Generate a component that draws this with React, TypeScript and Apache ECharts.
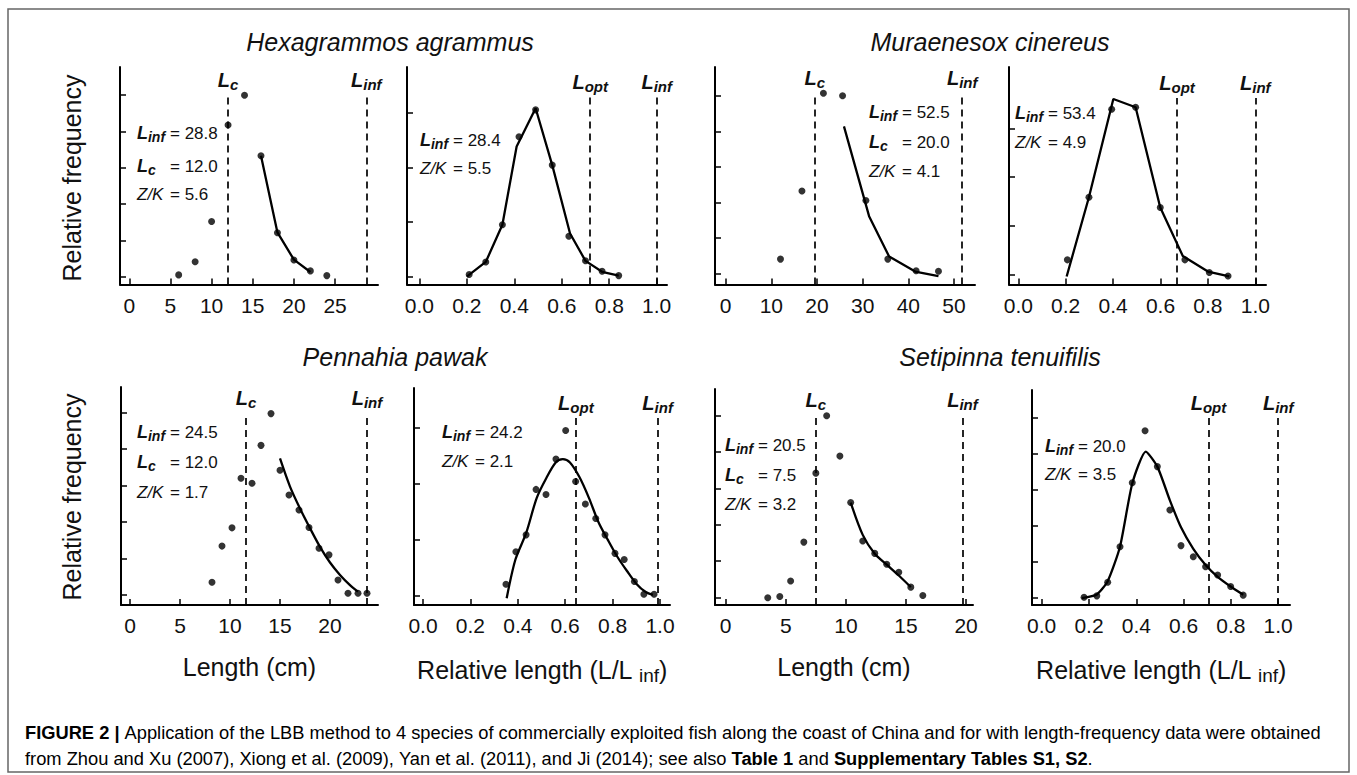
import React, { useEffect, useRef } from "react";
import * as echarts from "echarts";

const FONT = '"Liberation Sans", Arial, Helvetica, sans-serif';
const INK = "#111";

// ---------------- Text content ----------------
const speciesTitles = ["Hexagrammos agrammus", "Muraenesox cinereus", "Pennahia pawak", "Setipinna tenuifilis"];
const yAxisTitle = "Relative frequency";
const lengthTitle = "Length (cm)";
const relTitleMain = "Relative length (L/L ";
const relTitleSub = "inf";

// ---------------- Tick labels ----------------
const ticksLen25 = [0, 5, 10, 15, 20, 25];
const ticksLen50 = [0, 10, 20, 30, 40, 50];
const ticksLen20 = [0, 5, 10, 15, 20];
const ticksRel = [0, 0.2, 0.4, 0.6, 0.8, 1.0];

// ---------------- Series values (y in tick units) ----------------
// Hexagrammos agrammus, length
const p1X = [6, 8, 10, 12, 14, 16, 18, 20, 22, 24];
const p1Y = [0.05, 0.41, 1.52, 4.18, 5.0, 3.33, 1.21, 0.46, 0.16, 0.03];
const p1FitX = [16, 18, 20, 22];
const p1FitY = [3.33, 1.22, 0.47, 0.13];
// Hexagrammos agrammus, relative length
const p2X = [0.21, 0.28, 0.35, 0.42, 0.49, 0.56, 0.63, 0.7, 0.77, 0.84];
const p2Y = [0.04, 0.27, 0.95, 2.56, 3.05, 2.04, 0.74, 0.29, 0.1, 0.02];
const p2FitX = [0.2, 0.28, 0.35, 0.41, 0.49, 0.56, 0.635, 0.7, 0.77, 0.84];
const p2FitY = [0.0, 0.27, 0.95, 2.38, 3.08, 2.04, 0.79, 0.29, 0.09, 0.02];
// Muraenesox cinereus, length
const p3X = [12.0, 16.7, 21.4, 25.6, 30.7, 35.5, 41.7, 46.6];
const p3Y = [0.4, 2.32, 5.07, 5.0, 2.05, 0.4, 0.07, 0.06];
const p3FitX = [25.9, 31.4, 35.8, 41.5, 46.6];
const p3FitY = [4.14, 1.61, 0.47, 0.05, -0.08];
// Muraenesox cinereus, relative length
const p4X = [0.207, 0.298, 0.394, 0.495, 0.599, 0.703, 0.806, 0.885];
const p4Y = [0.31, 1.59, 3.39, 3.43, 1.38, 0.31, 0.05, -0.02];
const p4FitX = [0.204, 0.298, 0.401, 0.495, 0.599, 0.694, 0.8, 0.89];
const p4FitY = [-0.03, 1.59, 3.6, 3.43, 1.38, 0.39, 0.07, -0.03];
// Pennahia pawak, length
const p5X = [8.2, 9.2, 10.2, 11.1, 12.2, 13.1, 14.1, 15.0, 15.9, 16.9, 17.9, 18.9, 19.9, 20.8, 21.8, 22.8, 23.7];
const p5Y = [0.35, 1.34, 1.84, 3.2, 3.06, 4.1, 4.97, 3.42, 2.74, 2.33, 1.85, 1.28, 1.1, 0.41, 0.05, 0.05, 0.05];
const p5FitX = [15.0, 16.0, 17.0, 18.0, 19.0, 20.0, 21.0, 22.0, 22.8];
const p5FitY = [3.74, 2.97, 2.37, 1.83, 1.32, 0.89, 0.55, 0.27, 0.09];
// Pennahia pawak, relative length
const p6X = [0.35, 0.392, 0.435, 0.477, 0.519, 0.561, 0.602, 0.644, 0.685, 0.729, 0.768, 0.81, 0.849, 0.892, 0.932, 0.975];
const p6Y = [0.21, 0.79, 1.09, 1.9, 1.81, 2.44, 2.95, 2.04, 1.64, 1.38, 1.09, 0.76, 0.65, 0.26, 0.03, 0.03];
const p6FitX = [0.353, 0.39, 0.435, 0.48, 0.52, 0.56, 0.59, 0.62, 0.66, 0.7, 0.74, 0.78, 0.82, 0.86, 0.9, 0.94, 0.97];
const p6FitY = [-0.04, 0.65, 1.12, 1.75, 2.1, 2.38, 2.44, 2.38, 2.12, 1.75, 1.32, 1.0, 0.7, 0.45, 0.22, 0.07, 0.02];
// Setipinna tenuifilis, length
const p7X = [3.5, 4.5, 5.4, 6.5, 7.5, 8.4, 9.5, 10.4, 11.4, 12.4, 13.4, 14.4, 15.4, 16.4];
const p7Y = [-0.01, 0.02, 0.45, 1.52, 3.42, 5.0, 3.89, 2.61, 1.55, 1.21, 0.91, 0.69, 0.28, 0.05];
const p7FitX = [10.4, 11.4, 12.4, 13.4, 14.4, 15.4];
const p7FitY = [2.61, 1.72, 1.2, 0.9, 0.6, 0.28];
// Setipinna tenuifilis, relative length
const p8X = [0.179, 0.233, 0.279, 0.331, 0.383, 0.437, 0.489, 0.542, 0.589, 0.641, 0.693, 0.744, 0.799, 0.852];
const p8Y = [0.0, 0.04, 0.42, 1.41, 3.19, 4.64, 3.64, 2.43, 1.44, 1.13, 0.85, 0.62, 0.3, 0.06];
const p8FitX = [0.17, 0.233, 0.279, 0.331, 0.383, 0.44, 0.489, 0.542, 0.589, 0.641, 0.693, 0.744, 0.799, 0.852];
const p8FitY = [-0.02, 0.08, 0.45, 1.41, 3.17, 4.06, 3.64, 2.7, 1.95, 1.35, 0.9, 0.57, 0.3, 0.07];

// ---------------- Reference lines ----------------
const lowerRefValues = [12.0, 0.72, 19.5, 0.67, 11.6, 0.645, 7.5, 0.705];
const lowerRefKinds = ["c", "opt", "c", "opt", "c", "opt", "c", "opt"];
const linfRefValues = [28.8, 1.0, 51.8, 1.0, 23.7, 0.99, 19.7, 1.0];

// ---------------- Annotation values ----------------
const linfText = ["28.8", "28.4", "52.5", "53.4", "24.5", "24.2", "20.5", "20.0"];
const lcText = ["12.0", "", "20.0", "", "12.0", "", "7.5", ""];
const zkText = ["5.6", "5.5", "4.1", "4.9", "1.7", "2.1", "3.2", "3.5"];

// ---------------- Caption ----------------
const captionLine1 = "Application of the LBB method to 4 species of commercially exploited fish along the coast of China and for with length-frequency data were obtained";
const captionRefs = ["Zhou and Xu (2007)", "Xiong et al. (2009)", "Yan et al. (2011)", "Ji (2014)"];

// ---------------- Layout (pixels) ----------------
const LAYOUT = [
  { L: 120, R: 378, T: 67, B: 284.5, x0: 129.3, xs: 8.23, y0: 276.7, ys: 36.3, nY: 5, dashTop: 95, ax: 137, ay: [133, 166, 194] },
  { L: 407, R: 667, T: 67, B: 284.5, x0: 419.3, xs: 237.4, y0: 276.7, ys: 54.7, nY: 3, dashTop: 97, ax: 420, ay: [140, 168] },
  { L: 715, R: 975, T: 67, B: 284.5, x0: 725.7, xs: 4.566, y0: 273.3, ys: 35.5, nY: 5, dashTop: 93, ax: 869, ay: [112, 142, 171] },
  { L: 1009, R: 1266, T: 67, B: 284.5, x0: 1018.3, xs: 237, y0: 275, ys: 48.9, nY: 3, dashTop: 98, ax: 1015, ay: [113, 142] },
  { L: 121, R: 378, T: 387, B: 605, x0: 130, xs: 10, y0: 595, ys: 36.5, nY: 5, dashTop: 413, ax: 137, ay: [432, 462, 492] },
  { L: 414, R: 670, T: 388, B: 605, x0: 423, xs: 237, y0: 596, ys: 56.1, nY: 3, dashTop: 418, ax: 442, ay: [432, 461] },
  { L: 715, R: 973, T: 389, B: 605, x0: 725.7, xs: 12.02, y0: 597.3, ys: 36.3, nY: 5, dashTop: 415, ax: 725, ay: [445, 475, 504] },
  { L: 1032, R: 1290, T: 390, B: 605, x0: 1041.7, xs: 236.5, y0: 597.3, ys: 35.9, nY: 5, dashTop: 418, ax: 1045, ay: [446, 474] },
];

const PANELS = [
  { x: p1X, y: p1Y, fx: p1FitX, fy: p1FitY, ticks: ticksLen25, rel: false, smooth: false },
  { x: p2X, y: p2Y, fx: p2FitX, fy: p2FitY, ticks: ticksRel, rel: true, smooth: false },
  { x: p3X, y: p3Y, fx: p3FitX, fy: p3FitY, ticks: ticksLen50, rel: false, smooth: false },
  { x: p4X, y: p4Y, fx: p4FitX, fy: p4FitY, ticks: ticksRel, rel: true, smooth: false },
  { x: p5X, y: p5Y, fx: p5FitX, fy: p5FitY, ticks: ticksLen25, rel: false, smooth: 0.3 },
  { x: p6X, y: p6Y, fx: p6FitX, fy: p6FitY, ticks: ticksRel, rel: true, smooth: 0.3 },
  { x: p7X, y: p7Y, fx: p7FitX, fy: p7FitY, ticks: ticksLen20, rel: false, smooth: 0.3 },
  { x: p8X, y: p8Y, fx: p8FitX, fy: p8FitY, ticks: ticksRel, rel: true, smooth: 0.2 },
];

const TITLE_POS = [
  { x: 390, y: 42 },
  { x: 990, y: 42 },
  { x: 395, y: 357 },
  { x: 1000, y: 357 },
];

const labelRich = {
  L: { fontSize: 20, fontWeight: "bold", fontStyle: "italic", fontFamily: FONT, color: INK },
  s: { fontSize: 15, fontWeight: "bold", fontStyle: "italic", fontFamily: FONT, color: INK, padding: [9, 0, 0, 0] },
};
const annRich = {
  L: { fontSize: 18, fontWeight: "bold", fontStyle: "italic", fontFamily: FONT, color: INK },
  s: { fontSize: 14, fontWeight: "bold", fontStyle: "italic", fontFamily: FONT, color: INK, padding: [8, 0, 0, 0] },
  z: { fontSize: 17, fontStyle: "italic", fontFamily: FONT, color: INK },
};

function buildOption() {
  const grid: any[] = [];
  const xAxis: any[] = [];
  const yAxis: any[] = [];
  const series: any[] = [];
  const graphic: any[] = [];

  PANELS.forEach((p, i) => {
    const g = LAYOUT[i];
    const xmin = (g.L - g.x0) / g.xs;
    const xmax = (g.R - g.x0) / g.xs;
    const ymin = -(g.B - g.y0) / g.ys;
    const ymax = (g.y0 - g.T) / g.ys;
    const dashTopVal = (g.y0 - g.dashTop) / g.ys;
    const yTicks = Array.from({ length: g.nY + 1 }, (_, k) => k);
    const bottomRow = i >= 4;

    grid.push({ left: g.L, top: g.T, width: g.R - g.L, height: g.B - g.T, containLabel: false, outerBoundsMode: "none" });

    const xa: any = {
      type: "value",
      gridIndex: i,
      min: xmin,
      max: xmax,
      axisLine: { show: true, onZero: false, lineStyle: { color: "#000", width: 2 } },
      axisTick: { show: true, inside: true, length: 6, lineStyle: { color: "#000", width: 1.5 }, customValues: p.ticks },
      axisLabel: {
        show: true,
        customValues: p.ticks,
        formatter: p.rel ? (v: number) => Number(v).toFixed(1) : (v: number) => String(Math.round(v)),
        fontSize: 21,
        color: INK,
        fontFamily: FONT,
        margin: 10,
      },
      splitLine: { show: false },
    };
    if (bottomRow) {
      xa.name = p.rel ? `{a|${relTitleMain}}{s|${relTitleSub}}{a|)}` : `{a|${lengthTitle}}`;
      xa.nameLocation = "middle";
      xa.nameGap = 49;
      xa.nameTextStyle = {
        fontSize: 25,
        fontFamily: FONT,
        color: INK,
        rich: {
          a: { fontSize: 25, fontFamily: FONT, color: INK },
          s: { fontSize: 19, fontFamily: FONT, color: INK, padding: [12, 0, 0, 0] },
        },
      };
    }
    xAxis.push(xa);

    yAxis.push({
      type: "value",
      gridIndex: i,
      min: ymin,
      max: ymax,
      axisLine: { show: true, onZero: false, lineStyle: { color: "#000", width: 2 } },
      axisTick: { show: true, inside: true, length: 6, lineStyle: { color: "#000", width: 1.5 }, customValues: yTicks },
      axisLabel: { show: false },
      splitLine: { show: false },
    });

    series.push({
      type: "line",
      xAxisIndex: i,
      yAxisIndex: i,
      data: p.fx.map((x, k) => [x, p.fy[k]]),
      showSymbol: false,
      symbol: "none",
      smooth: p.smooth,
      lineStyle: { color: "#000", width: 2.3 },
      z: 2,
      silent: true,
    });

    series.push({
      type: "scatter",
      xAxisIndex: i,
      yAxisIndex: i,
      data: p.x.map((x, k) => [x, p.y[k]]),
      symbolSize: 7,
      itemStyle: { color: "#000" },
      z: 3,
      silent: true,
      markLine: {
        silent: true,
        symbol: ["none", "none"],
        lineStyle: { color: "#000", type: [7, 5], width: 1.7 },
        label: {
          show: true,
          position: "end",
          distance: 3,
          formatter: (prm: any) => `{L|L}{s|${prm.name}}`,
          rich: labelRich,
        },
        data: [
          [
            { name: lowerRefKinds[i], coord: [lowerRefValues[i], ymin] },
            { name: lowerRefKinds[i], coord: [lowerRefValues[i], dashTopVal] },
          ],
          [
            { name: "inf", coord: [linfRefValues[i], ymin] },
            { name: "inf", coord: [linfRefValues[i], dashTopVal] },
          ],
        ],
      },
    });

    // annotations
    const rows: { lab: string; val: string }[] = [{ lab: "{L|L}{s|inf}", val: linfText[i] }];
    if (lcText[i]) rows.push({ lab: "{L|L}{s|c}", val: lcText[i] });
    rows.push({ lab: "{z|Z/K}", val: zkText[i] });
    rows.forEach((r, k) => {
      graphic.push({
        type: "text",
        x: g.ax,
        y: g.ay[k],
        silent: true,
        style: { text: r.lab, rich: annRich, align: "left", verticalAlign: "middle", fill: INK },
      });
      graphic.push({
        type: "text",
        x: g.ax + 33,
        y: g.ay[k],
        silent: true,
        style: {
          text: "= " + r.val,
          fontSize: 17,
          fontFamily: FONT,
          fill: INK,
          align: "left",
          verticalAlign: "middle",
        },
      });
    });
  });

  // species titles
  speciesTitles.forEach((t, k) => {
    graphic.push({
      type: "text",
      x: TITLE_POS[k].x,
      y: TITLE_POS[k].y,
      silent: true,
      style: { text: t, fontSize: 25, fontStyle: "italic", fontFamily: FONT, fill: INK, align: "center", verticalAlign: "middle" },
    });
  });

  // y axis titles
  [178, 497].forEach((cy) => {
    graphic.push({
      type: "text",
      x: 72,
      y: cy,
      rotation: Math.PI / 2,
      silent: true,
      style: { text: yAxisTitle, fontSize: 25, fontFamily: FONT, fill: INK, align: "center", verticalAlign: "middle" },
    });
  });

  // caption
  const capRich = {
    b: { fontSize: 18.3, fontWeight: "bold", fontFamily: FONT, color: "#222" },
    n: { fontSize: 18.3, fontFamily: FONT, color: "#333" },
    g: { fontSize: 18.3, fontFamily: FONT, color: "#8c8c8c" },
  };
  graphic.push({
    type: "text",
    x: 25,
    y: 732,
    silent: true,
    style: { text: `{b|FIGURE 2 | }{n|${captionLine1}}`, rich: capRich, align: "left", verticalAlign: "middle" },
  });
  graphic.push({
    type: "text",
    x: 25,
    y: 758,
    silent: true,
    style: {
      text:
        `{n|from }{g|${captionRefs[0]}}{n|, }{g|${captionRefs[1]}}{n|, }{g|${captionRefs[2]}}{n|, and }{g|${captionRefs[3]}}` +
        `{n|; see also }{b|Table 1}{n| and }{b|Supplementary Tables S1, S2}{n|.}`,
      rich: capRich,
      align: "left",
      verticalAlign: "middle",
    },
  });

  // outer frame
  graphic.push({
    type: "rect",
    silent: true,
    shape: { x: 8, y: 9, width: 1341, height: 763 },
    style: { fill: "none", stroke: "#666", lineWidth: 1.5 },
  });

  return {
    animation: false,
    backgroundColor: "#fff",
    grid,
    xAxis,
    yAxis,
    series,
    graphic,
  };
}

export default function App() {
  const ref = useRef<HTMLDivElement>(null);
  useEffect(() => {
    if (!ref.current) return;
    const chart = echarts.init(ref.current, null, { renderer: "svg" });
    chart.setOption(buildOption() as any);
    return () => chart.dispose();
  }, []);
  return <div ref={ref} style={{ position: "absolute", left: 0, top: 0, width: 1357, height: 775 }} />;
}
